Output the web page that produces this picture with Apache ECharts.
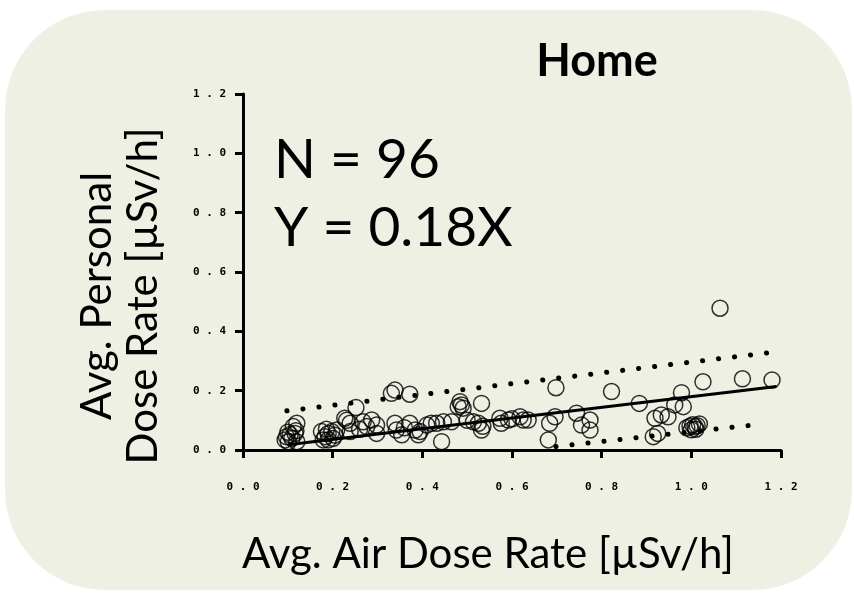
<!DOCTYPE html>
<html>
<head>
<meta charset="utf-8">
<title>Home</title>
<script src="https://cdn.jsdelivr.net/npm/echarts@6/dist/echarts.min.js"></script>
<style>
	html, body { margin: 0; padding: 0; background: #fff; }
	#main { width: 854px; height: 595px; }
</style>
</head>
<body>
<div id="main"></div>
<script>
// 散点数据
var airDose = [
	0.094, 0.097, 0.101, 0.105, 0.109, 0.112, 0.116, 0.120, 0.120, 0.118, 0.100,
	0.175, 0.179, 0.183, 0.190, 0.190, 0.198, 0.201, 0.205, 0.186,
	0.209, 0.227, 0.231, 0.239, 0.239, 0.252, 0.268, 0.276, 0.287, 0.298, 0.298, 0.260,
	0.331, 0.339, 0.372, 0.339, 0.342, 0.354, 0.372, 0.384, 0.391, 0.410, 0.420, 0.432, 0.447, 0.443, 0.360, 0.395,
	0.465, 0.480, 0.484, 0.487, 0.491, 0.532, 0.514, 0.525, 0.532, 0.500, 0.535,
	0.573, 0.576, 0.592, 0.618, 0.625, 0.636, 0.600,
	0.698, 0.696, 0.684, 0.681, 0.744, 0.755, 0.774, 0.774,
	0.822, 0.884,
	0.919, 0.933, 0.948, 0.925, 0.915, 0.963, 0.982, 0.978, 1.026,
	0.990, 0.997, 1.003, 1.008, 1.013, 1.018, 1.010, 1.000,
	1.064, 1.114, 1.180
];
var personalDose = [
	0.034, 0.045, 0.028, 0.052, 0.039, 0.079, 0.056, 0.028, 0.090, 0.065, 0.060,
	0.062, 0.034, 0.045, 0.056, 0.034, 0.062, 0.039, 0.050, 0.070,
	0.067, 0.107, 0.100, 0.090, 0.062, 0.143, 0.095, 0.079, 0.101, 0.084, 0.056, 0.070,
	0.191, 0.202, 0.188, 0.090, 0.067, 0.051, 0.090, 0.067, 0.051, 0.084, 0.090, 0.090, 0.095, 0.028, 0.075, 0.062,
	0.095, 0.146, 0.163, 0.152, 0.141, 0.157, 0.095, 0.090, 0.067, 0.100, 0.080,
	0.107, 0.090, 0.101, 0.112, 0.101, 0.101, 0.105,
	0.210, 0.112, 0.090, 0.034, 0.124, 0.084, 0.101, 0.067,
	0.197, 0.157,
	0.107, 0.118, 0.112, 0.056, 0.045, 0.152, 0.146, 0.193, 0.230,
	0.075, 0.080, 0.085, 0.078, 0.082, 0.088, 0.070, 0.068,
	0.478, 0.240, 0.236
];
// 回归线 Y = 0.18X
var fitX = [0.10, 1.19];
var fitY = [0.018, 0.214];
// 预测带（点线）
var upperX = [0.098, 1.168];
var upperY = [0.132, 0.327];
var lowerX = [0.698, 1.162];
var lowerY = [0.012, 0.088];
// 坐标轴刻度
var axisMin = 0, axisMax = 1.2, axisStep = 0.2;

function pairs(xs, ys) {
	var arr = [];
	for (var i = 0; i < xs.length; i++) arr.push([xs[i], ys[i]]);
	return arr;
}
function tickFmt(v) {
	return v.toFixed(1).split('').join(' ');
}

var labelFont = { fontFamily: 'DejaVu Sans Mono', fontWeight: 'bold', fontSize: 11, color: '#000' };
var bigFont = 'Lato, "Open Sans", sans-serif';

var myChart = echarts.init(document.getElementById('main'));
var option = {
	backgroundColor: '#fff',
	animation: false,
	graphic: [
		{
			type: 'rect', z: -10, silent: true,
			shape: { x: 5, y: 10, width: 847, height: 580, r: 100 },
			style: { fill: '#EDF0E3' }
		},
		{
			type: 'text', z: 10,
			style: { text: 'Home', x: 597, y: 61, align: 'center', verticalAlign: 'middle',
				font: 'bold 45px ' + bigFont, fill: '#000' }
		},
		{
			type: 'text', z: 10,
			style: { text: 'N = 96', x: 274, y: 160, align: 'left', verticalAlign: 'middle',
				font: '55px ' + bigFont, fill: '#000' }
		},
		{
			type: 'text', z: 10,
			style: { text: 'Y = 0.18X', x: 274, y: 228, align: 'left', verticalAlign: 'middle',
				font: '55px ' + bigFont, fill: '#000' }
		},
		{
			type: 'text', z: 10, rotation: Math.PI / 2, x: 97, y: 296,
			style: { text: 'Avg. Personal', x: 0, y: 0, align: 'center', verticalAlign: 'middle',
				font: '42px ' + bigFont, fill: '#000' }
		},
		{
			type: 'text', z: 10, rotation: Math.PI / 2, x: 143, y: 296,
			style: { text: 'Dose Rate [µSv/h]', x: 0, y: 0, align: 'center', verticalAlign: 'middle',
				font: '42px ' + bigFont, fill: '#000' }
		},
		{
			type: 'text', z: 10,
			style: { text: 'Avg. Air Dose Rate [µSv/h]', x: 488, y: 554, align: 'center', verticalAlign: 'middle',
				font: '42px ' + bigFont, fill: '#000' }
		}
	],
	grid: { left: 243, top: 94, right: 73, bottom: 145, containLabel: false },
	xAxis: {
		type: 'value', min: axisMin, max: axisMax, interval: axisStep,
		splitLine: { show: false },
		axisLine: { onZero: false, lineStyle: { color: '#000', width: 3 } },
		axisTick: { length: 8, lineStyle: { color: '#000', width: 3 } },
		axisLabel: Object.assign({ margin: 32, formatter: tickFmt }, labelFont)
	},
	yAxis: {
		type: 'value', min: axisMin, max: axisMax, interval: axisStep,
		splitLine: { show: false },
		axisLine: { show: true, onZero: false, lineStyle: { color: '#000', width: 3 } },
		axisTick: { show: true, length: 8, lineStyle: { color: '#000', width: 3 } },
		axisLabel: Object.assign({ margin: 17, formatter: tickFmt }, labelFont)
	},
	series: [
		{
			name: 'upper', type: 'line', data: pairs(upperX, upperY),
			symbol: 'none', silent: true, z: 2,
			lineStyle: { color: '#000', width: 5, type: [0.1, 16], cap: 'round' }
		},
		{
			name: 'lower', type: 'line', data: pairs(lowerX, lowerY),
			symbol: 'none', silent: true, z: 2,
			lineStyle: { color: '#000', width: 5, type: [0.1, 16], cap: 'round' }
		},
		{
			name: 'fit', type: 'line', data: pairs(fitX, fitY),
			symbol: 'none', silent: true, z: 3,
			lineStyle: { color: '#000', width: 3 }
		},
		{
			name: 'Home', type: 'scatter', data: pairs(airDose, personalDose),
			symbol: 'circle', symbolSize: 16, z: 4,
			itemStyle: { color: 'rgba(0,0,0,0)', borderColor: '#000', borderWidth: 1.5 }
		}
	]
};
myChart.setOption(option);
</script>
</body>
</html>
